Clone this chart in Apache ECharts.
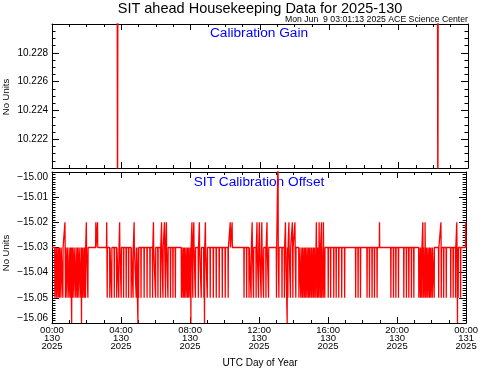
<!DOCTYPE html>
<html><head><meta charset="utf-8">
<script src="https://cdn.jsdelivr.net/npm/echarts@6/dist/echarts.min.js"></script>
<style>html,body{margin:0;padding:0;background:#fff}#c{width:481px;height:370px}</style>
</head><body><div id="c"></div>
<script>
// ---- data (hours of UTC day 130, 2025) ----
const dayOfYear = 130;
const year = 2025;
const titleText = 'SIT ahead Housekeeping Data for 2025-130';
const stampText = 'Mon Jun  9 03:01:13 2025 ACE Science Center';
const panelTitles = ['Calibration Gain', 'SIT Calibration Offset'];

// Calibration Gain: level sits outside the plotted range, two full-height dips
const gainLevel = 10.2305;
const gainDipHours = [3.78, 22.26];
const gainDipValues = [10.2195, 10.2195];

// SIT Calibration Offset: baseline and spikes
const offsetLevel = -15.03;
const offsetLow = -15.05;
const offsetLowHours = [0.17,0.26,0.35,0.43,0.52,0.63,0.78,0.87,0.98,1.07,1.18,1.27,1.38,1.47,1.56,1.67,1.79,1.88,1.94,2.08,
 3.20,3.35,3.46,3.61,3.75,3.87,4.01,4.15,4.30,4.44,4.59,4.70,4.88,5.02,5.16,5.34,5.51,5.68,5.83,6.00,6.14,
 6.29,6.43,6.58,6.72,6.87,7.01,7.15,7.50,7.59,7.67,7.76,7.85,7.93,8.02,8.16,8.31,8.48,8.65,8.80,9.00,9.17,9.35,9.52,9.69,9.87,10.04,10.21,
 11.13,11.28,11.42,11.54,11.68,11.83,11.97,12.12,12.26,12.40,12.55,13.01,13.15,13.33,13.47,13.67,13.82,13.96,14.13,14.31,14.42,
 14.51,14.60,14.68,14.77,14.86,14.94,15.03,15.12,15.20,15.29,15.38,15.46,15.55,15.63,15.72,15.81,16.01,16.15,16.33,16.47,16.62,16.79,16.96,
 17.60,17.74,17.88,18.26,18.40,18.55,18.69,18.84,19.64,19.79,19.93,20.08,20.39,20.54,20.68,20.83,20.97,
 21.26,21.35,21.43,21.52,21.61,21.69,21.78,21.87,21.95,22.04,22.15,22.41,22.56,22.70,22.85,23.11,23.25,23.39,23.54,23.68];
const offsetHigh = -15.02;
const offsetHighHours = [0.75,1.99,2.54,2.64,3.17,3.92,4.76,5.88,6.35,6.52,6.63,8.11,8.22,8.54,8.89,10.33,10.44,11.60,11.88,12.02,12.16,12.46,
 13.53,13.73,13.93,14.08,15.32,15.48,15.62,15.73,18.98,21.49,21.62,22.54,23.46,23.98];
const offsetDeep = -15.06;
const offsetDeepHours = [1.14,1.71,4.98,8.05,8.84,13.63,23.50];
const offsetPeak = -14.99;
const offsetPeakHours = [13.10];

// ---- build line data from the arrays ----
function spikeLine(level, groups) {
  const ev = [];
  groups.forEach(([hours, vals]) => hours.forEach((t, i) => ev.push([t, Array.isArray(vals) ? vals[i] : vals])));
  ev.sort((a, b) => a[0] - b[0]);
  const d = 0.012;
  const pts = [[0, level]];
  ev.forEach(([t, v]) => { pts.push([t - d, level], [t, v], [t + d, level]); });
  pts.push([24, level]);
  return pts;
}
const gainData = spikeLine(gainLevel, [[gainDipHours, gainDipValues]]);
const offsetData = spikeLine(offsetLevel, [
  [offsetLowHours, offsetLow], [offsetHighHours, offsetHigh],
  [offsetDeepHours, offsetDeep], [offsetPeakHours, offsetPeak]]);

// ---- chart ----
const FONT = '"Liberation Sans", Arial, sans-serif';
const black = '#000';
function xAx(grid, pos, labels) {
  return {
    type: 'value', gridIndex: grid, position: pos, min: 0, max: 24, interval: 4,
    axisLine: { show: true, onZero: false, lineStyle: { color: black, width: 1 } },
    axisTick: { show: true, inside: true, length: 6, lineStyle: { color: black } },
    minorTick: { show: true, splitNumber: 4, length: 3, lineStyle: { color: black } },
    splitLine: { show: false }, minorSplitLine: { show: false },
    axisLabel: labels ? {
      show: true, margin: 3, color: black, fontFamily: FONT, fontSize: 9.5, lineHeight: 8,
      formatter: v => String(v % 24).padStart(2, '0') + ':00\n' + (dayOfYear + Math.floor(v / 24)) + '\n' + year
    } : { show: false }
  };
}
function yAx(grid, pos, min, max, interval, minorSplit, labels, fmt) {
  return {
    type: 'value', gridIndex: grid, position: pos, min: min, max: max, interval: interval,
    axisLine: { show: true, onZero: false, lineStyle: { color: black, width: 1 } },
    axisTick: { show: true, inside: true, length: 7, lineStyle: { color: black } },
    minorTick: { show: true, splitNumber: minorSplit, length: 3.5, lineStyle: { color: black } },
    splitLine: { show: false }, minorSplitLine: { show: false },
    axisLabel: labels ? Object.assign({ show: true, margin: 4, color: black, fontFamily: FONT, fontSize: 10, formatter: fmt }, labels) : { show: false }
  };
}

const chart = echarts.init(document.getElementById('c'), null, { renderer: 'canvas' });
chart.setOption({
  animation: false,
  backgroundColor: '#fff',
  grid: [
    { left: 52, right: 13, top: 24, height: 144 },
    { left: 52, right: 13, top: 172, height: 151 }
  ],
  xAxis: [xAx(0, 'bottom', false), xAx(0, 'top', false), xAx(1, 'bottom', true), xAx(1, 'top', false)],
  yAxis: [
    yAx(0, 'left', 10.220, 10.230, 0.002, 4, { showMinLabel: false, showMaxLabel: false }, v => v.toFixed(3)),
    yAx(0, 'right', 10.220, 10.230, 0.002, 4, null),
    yAx(1, 'left', -15.06, -15.00, 0.01, 10, { verticalAlignMaxLabel: 'top', verticalAlignMinLabel: 'bottom' }, v => v.toFixed(2).replace('-', '\u2212')),
    yAx(1, 'right', -15.06, -15.00, 0.01, 10, null)
  ],
  series: [
    { type: 'line', xAxisIndex: 0, yAxisIndex: 0, data: gainData, showSymbol: false, clip: true,
      lineStyle: { color: '#ff0000', width: 1.5 }, silent: true },
    { type: 'line', xAxisIndex: 2, yAxisIndex: 2, data: offsetData, showSymbol: false, clip: true,
      lineStyle: { color: '#ff0000', width: 1.3 }, silent: true }
  ],
  graphic: [
    { type: 'text', style: { text: titleText, x: 260, y: 8.5, fill: black, font: '14.5px ' + FONT, textAlign: 'center', textVerticalAlign: 'middle' } },
    { type: 'text', style: { text: stampText, x: 468, y: 19.5, fill: black, font: '8.7px ' + FONT, textAlign: 'right', textVerticalAlign: 'middle' } },
    { type: 'text', style: { text: panelTitles[0], x: 259, y: 33, fill: '#0000ff', font: '13.7px ' + FONT, textAlign: 'center', textVerticalAlign: 'middle' } },
    { type: 'text', style: { text: panelTitles[1], x: 259, y: 182, fill: '#0000ff', font: '13.7px ' + FONT, textAlign: 'center', textVerticalAlign: 'middle' } },
    { type: 'text', x: 6.5, y: 97, rotation: Math.PI / 2, style: { text: 'No Units', x: 0, y: 0, fill: black, font: '9.5px ' + FONT, textAlign: 'center', textVerticalAlign: 'middle' } },
    { type: 'text', x: 6.5, y: 253, rotation: Math.PI / 2, style: { text: 'No Units', x: 0, y: 0, fill: black, font: '9.5px ' + FONT, textAlign: 'center', textVerticalAlign: 'middle' } },
    { type: 'text', style: { text: 'UTC Day of Year', x: 260, y: 363, fill: black, font: '10px ' + FONT, textAlign: 'center', textVerticalAlign: 'middle' } }
  ]
});
</script></body></html>
